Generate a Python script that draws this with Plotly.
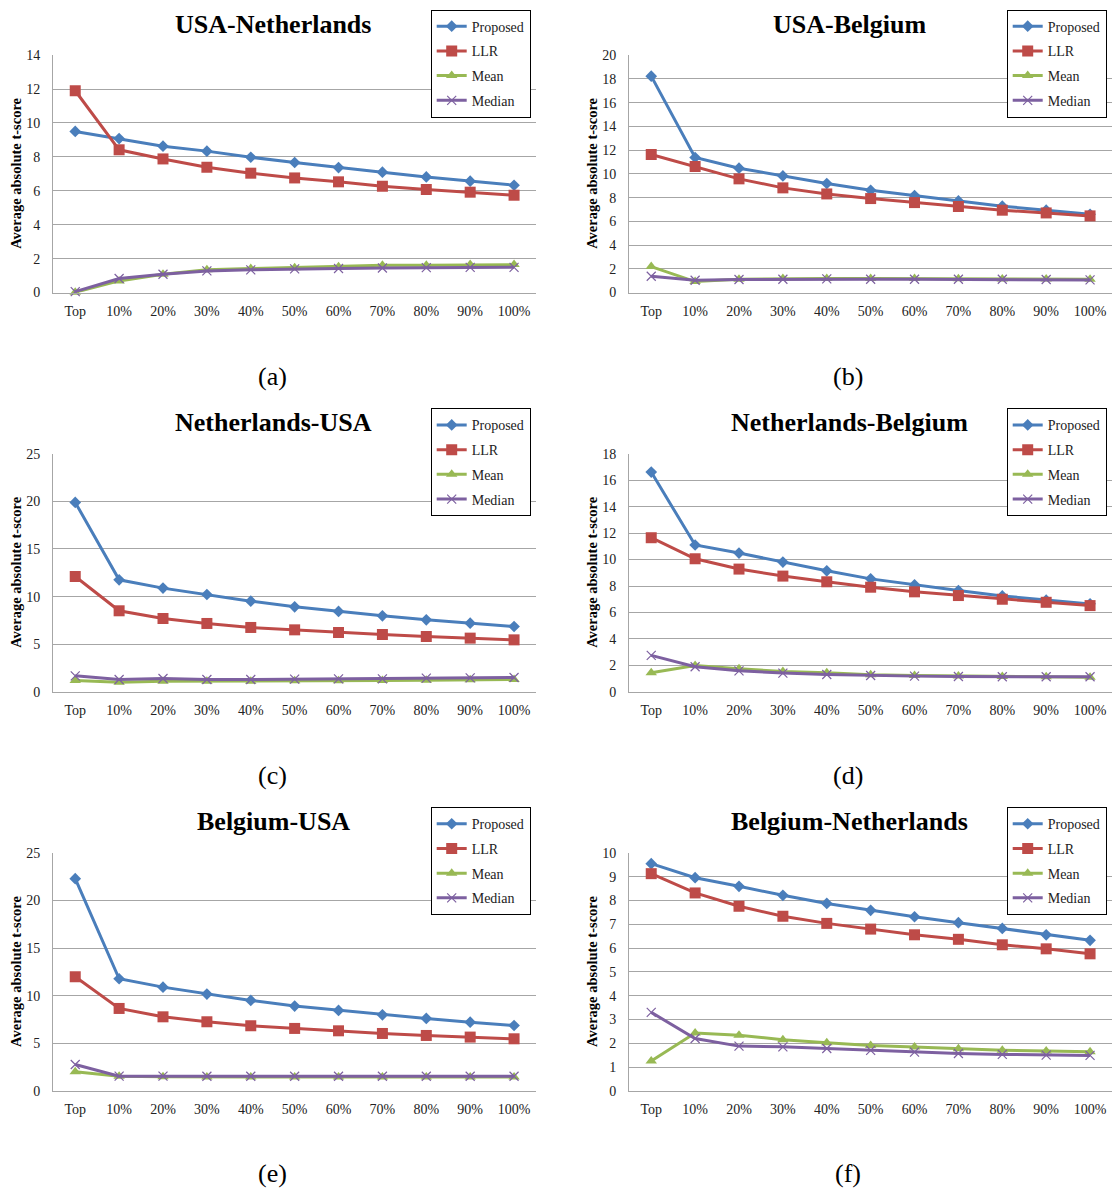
import plotly.graph_objects as go

W, H = 1112, 1188

categories = ["Top", "10%", "20%", "30%", "40%", "50%", "60%", "70%", "80%", "90%", "100%"]
series_names = ["Proposed", "LLR", "Mean", "Median"]

titles = ["USA-Netherlands", "USA-Belgium", "Netherlands-USA",
          "Netherlands-Belgium", "Belgium-USA", "Belgium-Netherlands"]
captions = ["(a)", "(b)", "(c)", "(d)", "(e)", "(f)"]
y_max = [14, 20, 25, 18, 25, 10]
y_dtick = [2, 2, 5, 2, 5, 1]

# (a) USA-Netherlands
a_proposed = [9.50, 9.08, 8.63, 8.34, 7.98, 7.67, 7.37, 7.10, 6.82, 6.57, 6.33]
a_llr = [11.90, 8.42, 7.88, 7.39, 7.04, 6.76, 6.53, 6.27, 6.08, 5.92, 5.74]
a_mean = [0.02, 0.69, 1.08, 1.34, 1.42, 1.47, 1.53, 1.61, 1.61, 1.65, 1.65]
a_median = [0.06, 0.83, 1.08, 1.28, 1.34, 1.40, 1.42, 1.45, 1.47, 1.49, 1.49]

# (b) USA-Belgium
b_proposed = [18.23, 11.38, 10.48, 9.83, 9.19, 8.62, 8.17, 7.72, 7.28, 6.94, 6.60]
b_llr = [11.63, 10.62, 9.58, 8.82, 8.31, 7.92, 7.58, 7.25, 6.94, 6.71, 6.46]
b_mean = [2.19, 0.93, 1.12, 1.18, 1.18, 1.18, 1.18, 1.16, 1.15, 1.14, 1.12]
b_median = [1.38, 1.04, 1.10, 1.12, 1.15, 1.12, 1.12, 1.12, 1.12, 1.10, 1.07]

# (c) Netherlands-USA
c_proposed = [19.89, 11.76, 10.89, 10.22, 9.52, 8.93, 8.44, 7.98, 7.56, 7.21, 6.86]
c_llr = [12.11, 8.51, 7.70, 7.18, 6.76, 6.51, 6.23, 6.02, 5.81, 5.64, 5.46]
c_mean = [1.19, 1.02, 1.12, 1.12, 1.12, 1.16, 1.16, 1.19, 1.23, 1.26, 1.30]
c_median = [1.68, 1.30, 1.40, 1.30, 1.30, 1.33, 1.37, 1.37, 1.44, 1.47, 1.51]

# (d) Netherlands-Belgium
d_proposed = [16.61, 11.10, 10.49, 9.81, 9.15, 8.54, 8.09, 7.66, 7.25, 6.93, 6.65]
d_llr = [11.65, 10.06, 9.28, 8.75, 8.32, 7.91, 7.56, 7.28, 7.00, 6.77, 6.52]
d_mean = [1.44, 2.00, 1.74, 1.54, 1.44, 1.29, 1.24, 1.19, 1.16, 1.14, 1.11]
d_median = [2.76, 1.90, 1.59, 1.42, 1.31, 1.24, 1.19, 1.16, 1.14, 1.14, 1.14]

# (e) Belgium-USA
e_proposed = [22.30, 11.78, 10.90, 10.17, 9.50, 8.91, 8.45, 7.99, 7.61, 7.22, 6.87]
e_llr = [11.99, 8.66, 7.78, 7.26, 6.84, 6.56, 6.31, 6.03, 5.82, 5.65, 5.47]
e_mean = [2.00, 1.54, 1.47, 1.46, 1.46, 1.46, 1.46, 1.46, 1.46, 1.46, 1.46]
e_median = [2.77, 1.54, 1.54, 1.53, 1.53, 1.53, 1.53, 1.53, 1.53, 1.53, 1.53]

# (f) Belgium-Netherlands
f_proposed = [9.55, 8.96, 8.60, 8.22, 7.88, 7.59, 7.32, 7.07, 6.83, 6.56, 6.33]
f_llr = [9.13, 8.32, 7.76, 7.34, 7.04, 6.80, 6.56, 6.37, 6.14, 5.97, 5.76]
f_mean = [1.25, 2.43, 2.34, 2.15, 2.02, 1.91, 1.84, 1.77, 1.71, 1.67, 1.64]
f_median = [3.30, 2.20, 1.88, 1.85, 1.78, 1.70, 1.63, 1.57, 1.53, 1.50, 1.49]

panels = [
    [a_proposed, a_llr, a_mean, a_median],
    [b_proposed, b_llr, b_mean, b_median],
    [c_proposed, c_llr, c_mean, c_median],
    [d_proposed, d_llr, d_mean, d_median],
    [e_proposed, e_llr, e_mean, e_median],
    [f_proposed, f_llr, f_mean, f_median],
]

colors = ["#4A7EBB", "#BE4B48", "#98B954", "#7D60A0"]
symbols = ["diamond", "square", "triangle-up", "x-thin"]
msizes = [9, 11, 10, 9]

FONT = "Liberation Serif"
GRID = "#a6a6a6"


def px_x(p):
    return p / W


def px_y(p):
    # compensate for the vertical offset/scale observed in the rendered page
    return 1 - ((p - 7.9) / 0.9867) / H


col_left = [53.3, 629.3]
col_right = [536.0, 1112.0]
row_top = [56.0, 454.3, 853.3]
row_bot = [293.3, 692.3, 1091.0]

fig = go.Figure()
annotations = []

for i in range(6):
    r, c = divmod(i, 2)
    n = i + 1
    xa = "x" if n == 1 else f"x{n}"
    ya = "y" if n == 1 else f"y{n}"
    lg = "legend" if n == 1 else f"legend{n}"
    for s in range(4):
        fig.add_trace(go.Scatter(
            x=categories, y=panels[i][s], name=series_names[s],
            mode="lines+markers", xaxis=xa, yaxis=ya, legend=lg,
            legendgroup=f"{i}-{s}",
            line=dict(color=colors[s], width=3),
            marker=dict(symbol=symbols[s], size=msizes[s], color=colors[s],
                        line=dict(color=colors[s], width=1.2 if s == 3 else 0)),
            cliponaxis=False,
        ))
    xkey = "xaxis" if n == 1 else f"xaxis{n}"
    ykey = "yaxis" if n == 1 else f"yaxis{n}"
    fig.update_layout(**{
        xkey: dict(
            domain=[px_x(col_left[c]), px_x(col_right[c])],
            anchor=ya, type="category", range=[-0.5, 10.5],
            showgrid=False, showline=True, linecolor=GRID, linewidth=1.3,
            ticks="", ticklabelstandoff=5,
            tickfont=dict(family=FONT, size=14, color="#222"),
            fixedrange=True, zeroline=False,
        ),
        ykey: dict(
            domain=[px_y(row_bot[r]), px_y(row_top[r])],
            anchor=xa, range=[0, y_max[i]], dtick=y_dtick[i], tick0=0,
            showgrid=True, gridcolor=GRID, gridwidth=1.3,
            showline=True, linecolor=GRID, linewidth=1.3,
            zeroline=False, ticks="", ticklabelstandoff=9,
            tickfont=dict(family=FONT, size=14, color="#222"),
            fixedrange=True,
        ),
        lg: dict(
            x=px_x(430.7 + 576 * c), y=px_y(10.5 + 398.5 * r),
            xanchor="left", yanchor="top",
            bgcolor="white", bordercolor="black", borderwidth=1,
            font=dict(family=FONT, size=14, color="#222"),
            traceorder="grouped", tracegroupgap=3.5, itemwidth=30,
        ),
    })
    # title
    annotations.append(dict(
        text=f"<b>{titles[i]}</b>", x=px_x(273 + 576 * c), y=px_y(25 + 398.5 * r),
        xref="paper", yref="paper", showarrow=False,
        font=dict(family=FONT, size=26, color="black"),
        xanchor="center", yanchor="middle",
    ))
    # y-axis title
    annotations.append(dict(
        text="<b>Average absolute t-score</b>", x=px_x(16 + 576 * c),
        y=px_y((row_top[r] + row_bot[r]) / 2),
        xref="paper", yref="paper", showarrow=False, textangle=-90,
        font=dict(family=FONT, size=14.5, color="black"),
        xanchor="center", yanchor="middle",
    ))
    # caption
    annotations.append(dict(
        text=captions[i], x=px_x(272 + 576 * c), y=px_y(377 + 398.5 * r),
        xref="paper", yref="paper", showarrow=False,
        font=dict(family=FONT, size=26, color="black"),
        xanchor="center", yanchor="middle",
    ))

fig.update_layout(
    width=W, height=H, margin=dict(l=0, r=0, t=0, b=0),
    paper_bgcolor="white", plot_bgcolor="white",
    annotations=annotations, showlegend=True,
)

fig.write_html("out.html")
